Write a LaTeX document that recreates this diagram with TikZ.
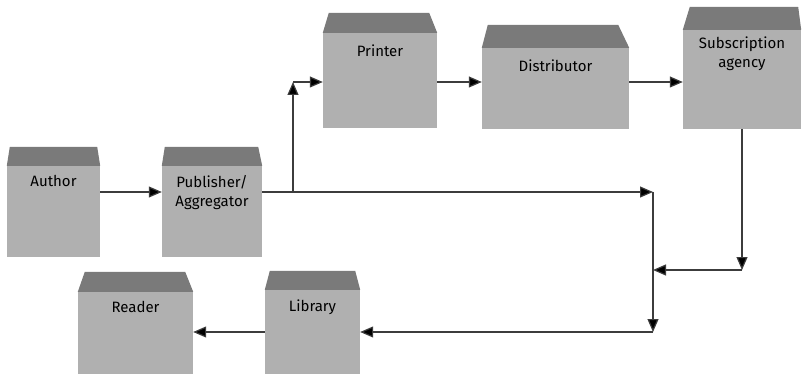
\documentclass[tikz,border=0pt]{standalone}
\usepackage{fontspec}
\setmainfont{Fira Sans}
\usepackage{tikz}
\usetikzlibrary{fit,calc}
\usetikzlibrary{arrows.meta}
\usetikzlibrary{positioning}
\definecolor{facegray}{RGB}{176,176,176}
\definecolor{lidgray}{RGB}{122,122,122}
\definecolor{linegray}{RGB}{60,60,60}
\begin{document}
\begin{tikzpicture}[x=1pt,y=-1pt,
  face/.style={fill=facegray,inner sep=0pt,draw=none},
  lid/.style={fill=lidgray},
  tag/.style={font=\fontsize{15}{19}\selectfont,align=center,anchor=north,inner sep=0pt},
  flow/.style={draw=linegray,line width=1.2pt,-{Triangle[length=13pt,width=11pt,fill=black]}}]
\useasboundingbox (0,0) rectangle (803,374);
% front faces
\node[face,fit={(7,166) (100,257)}] (author) {};
\node[face,fit={(162,166) (262,257)}] (publisher) {};
\node[face,fit={(323,33) (437,128)}] (printer) {};
\node[face,fit={(482,48) (629,129)}] (distributor) {};
\node[face,fit={(683,30) (801,129)}] (agency) {};
\node[face,fit={(78,292) (193,374)}] (reader) {};
\node[face,fit={(265,290) (360,374)}] (library) {};
% slanted tops: name / height / left inset / right inset
\foreach \n/\h/\l/\r in {author/19/3/3, publisher/19/3/4, printer/20/6/8,
    distributor/23/6/11, agency/23/7/3, reader/20/7/8, library/19/5/5}
  \fill[lid] (\n.north west) -- ([xshift=\l pt,yshift=\h pt]\n.north west)
    -- ([xshift=-\r pt,yshift=\h pt]\n.north east) -- (\n.north east) -- cycle;
% labels
\node[tag] (author-t) at ([yshift=-9pt]author.north) {Author};
\node[tag] (publisher-t) at ([yshift=-9pt]publisher.north) {Publisher/\\Aggregator};
\node[tag] (printer-t) at ([yshift=-12pt]printer.north) {Printer};
\node[tag] (distributor-t) at ([yshift=-12pt]distributor.north) {Distributor};
\node[tag] (agency-t) at ([yshift=-7pt]agency.north) {Subscription\\agency};
\node[tag] (reader-t) at ([yshift=-9pt]reader.north) {Reader};
\node[tag] (library-t) at ([yshift=-10pt]library.north) {Library};
% bend points
\coordinate (fork) at (293,192);
\coordinate (rise) at (293,82);
\coordinate (join) at (653,192);
\coordinate (merge) at (653,270);
\coordinate (drop) at (653,332);
\coordinate (turn) at (742,270);
% connectors
\draw[flow] (author.east |- fork) -- (publisher.west |- fork);
\draw[flow] (publisher.east |- fork) -- (join);
\draw[flow] (fork) -- (rise);
\draw[flow] (rise) -- (printer.west |- rise);
\draw[flow] (printer.east |- rise) -- (distributor.west |- rise);
\draw[flow] (distributor.east |- rise) -- (agency.west |- rise);
\draw[flow] (agency.south -| turn) -- (turn);
\draw[flow] (turn) -- (merge);
\draw[flow] (join) -- (drop);
\draw[flow] (drop) -- (library.east |- drop);
\draw[flow] (library.west |- drop) -- (reader.east |- drop);
\end{tikzpicture}
\end{document}
